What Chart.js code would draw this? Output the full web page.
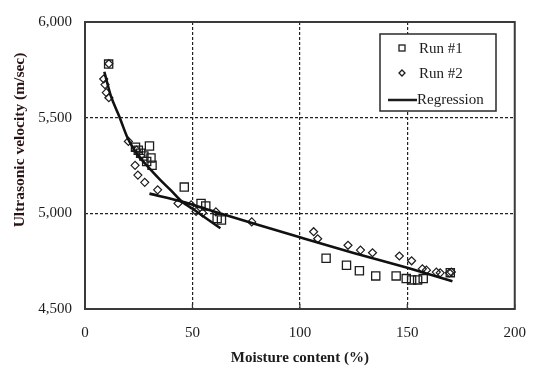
<!DOCTYPE html>
<html>
<head>
<meta charset="utf-8">
<script src="https://cdn.jsdelivr.net/npm/chart.js@4/dist/chart.umd.min.js"></script>
<style>
  html,body{margin:0;padding:0;background:#fff;}
  #wrap{width:541px;height:366px;position:relative;}
</style>
</head>
<body>
<div id="wrap"><canvas id="c" width="541" height="366"></canvas></div>
<script>
// ---- Data ----
const xTitle = "Moisture content (%)";
const yTitle = "Ultrasonic velocity (m/sec)";
const xTicks = [0, 50, 100, 150, 200];
const yTicks = [4500, 5000, 5500, 6000];

const run1X = [11, 23.5, 24.8, 25.9, 30.0, 30.7, 28.7, 31.2, 27.4, 46.2, 54, 56.2, 61.5, 63.5, 112.2, 121.7, 127.7, 135.3, 144.8, 149.5, 152, 154.8, 157.4, 170];
const run1Y = [5780, 5345, 5330, 5314, 5352, 5289, 5271, 5251, 5300, 5137, 5052, 5038, 4973, 4965, 4765, 4729, 4700, 4673, 4673, 4659, 4652, 4652, 4659, 4690];

const run2X = [8.7, 9.3, 9.9, 11.1, 11.1, 20.2, 24.0, 26.0, 23.3, 24.6, 27.8, 33.8, 43.3, 49.4, 51.7, 54.7, 60.9, 77.6, 106.4, 108.3, 122.4, 128.2, 133.8, 146.3, 152, 157, 158.9, 163.5, 165.3, 169.6, 170.5];
const run2Y = [5702, 5673, 5631, 5604, 5782, 5376, 5330, 5300, 5251, 5200, 5162, 5123, 5052, 5044, 5010, 5002, 5008, 4955, 4904, 4867, 4833, 4808, 4794, 4777, 4752, 4710, 4703, 4693, 4689, 4689, 4693];

const reg1X = [9, 12, 16, 20, 25, 30, 35, 40, 45, 50, 55, 63];
const reg1Y = [5740, 5615, 5505, 5390, 5300, 5235, 5175, 5120, 5062, 5025, 4985, 4922];

const reg2X = [30, 45, 60, 80, 100, 125, 150, 171];
const reg2Y = [5103, 5062, 5010, 4942, 4875, 4793, 4715, 4645];

const legendLabels = ["Run #1", "Run #2", "Regression"];

// ---- helpers ----
const pts = (xs, ys) => xs.map((x, i) => ({x: x, y: ys[i]}));
const INK = '#1c1c1c';
const SERIF = '"Liberation Serif", "Times New Roman", serif';

const framePlugin = {
  id: 'frame',
  afterDraw(chart) {
    const {ctx, chartArea: a, scales} = chart;
    ctx.save();
    // inward tick marks on x axis
    ctx.strokeStyle = '#333';
    ctx.lineWidth = 1.2;
    xTicks.forEach(v => {
      const px = scales.x.getPixelForValue(v);
      ctx.beginPath(); ctx.moveTo(px, a.bottom); ctx.lineTo(px, a.bottom - 5); ctx.stroke();
    });
    // frame
    ctx.strokeStyle = '#3a3a3a';
    ctx.lineWidth = 2;
    ctx.strokeRect(a.left, a.top, a.right - a.left, a.bottom - a.top);

    // legend
    const bx = 380, by = 34, bw = 116, bh = 77;
    ctx.fillStyle = '#fff';
    ctx.fillRect(bx, by, bw, bh);
    ctx.strokeStyle = '#2a2a2a';
    ctx.lineWidth = 1.5;
    ctx.strokeRect(bx, by, bw, bh);
    ctx.font = '15px ' + SERIF;
    ctx.fillStyle = INK;
    ctx.textBaseline = 'middle';
    ctx.textAlign = 'left';
    // square
    ctx.lineWidth = 1.3;
    ctx.strokeStyle = INK;
    ctx.strokeRect(399, 45, 6, 6);
    ctx.fillText(legendLabels[0], 419, 49);
    // diamond
    ctx.beginPath();
    ctx.moveTo(402, 70); ctx.lineTo(405, 73); ctx.lineTo(402, 76); ctx.lineTo(399, 73); ctx.closePath();
    ctx.stroke();
    ctx.fillText(legendLabels[1], 419, 74);
    // line
    ctx.lineWidth = 2.5;
    ctx.beginPath(); ctx.moveTo(388, 100); ctx.lineTo(417, 100); ctx.stroke();
    ctx.fillText(legendLabels[2], 417, 100);

    // axis titles
    ctx.font = 'bold 15px ' + SERIF;
    ctx.textAlign = 'center';
    ctx.textBaseline = 'middle';
    ctx.fillStyle = INK;
    ctx.fillText(xTitle, (a.left + a.right) / 2, 358);
    ctx.save();
    ctx.translate(20, 140);
    ctx.rotate(-Math.PI / 2);
    ctx.font = 'bold 15.5px ' + SERIF;
    ctx.fillStyle = '#2a1414';
    ctx.fillText(yTitle, 0, 0);
    ctx.restore();
    ctx.restore();
  }
};

const gridColor = (ctx) => {
  const v = ctx.tick && ctx.tick.value;
  const s = ctx.scale;
  if (v === s.min || v === s.max) return 'rgba(0,0,0,0)';
  return '#222';
};

new Chart(document.getElementById('c'), {
  type: 'scatter',
  data: {
    datasets: [
      {label: legendLabels[0], data: pts(run1X, run1Y), pointStyle: 'rect', pointRadius: 5.8,
       borderColor: INK, backgroundColor: 'rgba(0,0,0,0)', pointBorderWidth: 1.3, showLine: false, order: 2},
      {label: legendLabels[1], data: pts(run2X, run2Y), pointStyle: 'rectRot', pointRadius: 4,
       borderColor: INK, backgroundColor: 'rgba(0,0,0,0)', pointBorderWidth: 1.2, showLine: false, order: 2},
      {label: legendLabels[2], data: pts(reg1X, reg1Y), showLine: true, pointRadius: 0,
       borderColor: '#111', borderWidth: 2.6, cubicInterpolationMode: 'monotone', order: 1},
      {label: legendLabels[2] + ' 2', data: pts(reg2X, reg2Y), showLine: true, pointRadius: 0,
       borderColor: '#111', borderWidth: 2.6, cubicInterpolationMode: 'monotone', order: 1}
    ]
  },
  options: {
    responsive: false,
    animation: false,
    devicePixelRatio: 1,
    layout: {padding: {top: 13, right: 18, left: 0, bottom: 0}},
    plugins: {legend: {display: false}, tooltip: {enabled: false}},
    scales: {
      x: {
        type: 'linear', min: xTicks[0], max: xTicks[xTicks.length - 1],
        afterFit: s => { s.height = 57; },
        afterBuildTicks: s => { s.ticks = xTicks.map(v => ({value: v})); },
        border: {display: false, dash: [3, 2]},
        grid: {color: gridColor, lineWidth: 1.2, drawTicks: false},
        ticks: {padding: 15, color: INK, font: {family: SERIF, size: 15}, callback: v => v.toString()}
      },
      y: {
        type: 'linear', min: yTicks[0], max: yTicks[yTicks.length - 1],
        afterFit: s => { s.width = 85; },
        afterBuildTicks: s => { s.ticks = yTicks.map(v => ({value: v})); },
        border: {display: false, dash: [3, 2]},
        grid: {color: gridColor, lineWidth: 1.2, drawTicks: false},
        ticks: {padding: 13, color: INK, font: {family: SERIF, size: 15},
                callback: v => v.toLocaleString('en-US')}
      }
    }
  },
  plugins: [framePlugin]
});
</script>
</body>
</html>
